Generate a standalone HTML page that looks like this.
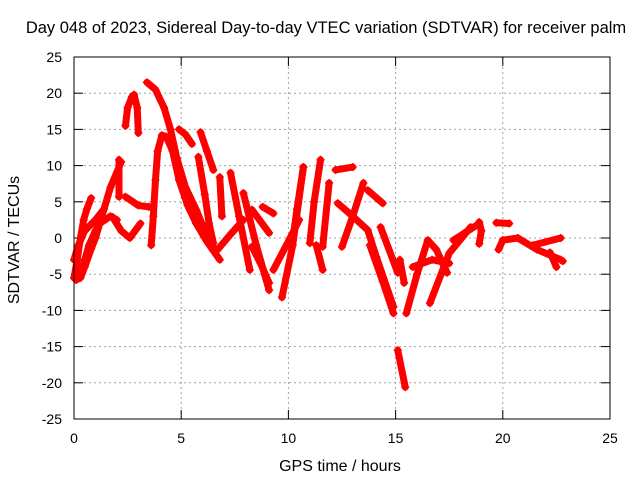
<!DOCTYPE html>
<html><head><meta charset="utf-8"><style>
body{margin:0;background:#fff}
svg{display:block;font-family:"Liberation Sans",sans-serif}
</style></head><body>
<svg id="chart" width="640" height="480" xmlns="http://www.w3.org/2000/svg">
<rect width="640" height="480" fill="#fff"/>
<text x="326" y="33" font-size="16.5" text-anchor="middle">Day 048 of 2023, Sidereal Day-to-day VTEC variation (SDTVAR) for receiver palm</text>
<text x="340" y="471" font-size="16" text-anchor="middle">GPS time / hours</text>
<text transform="translate(19,240) rotate(-90)" font-size="16" text-anchor="middle">SDTVAR / TECUs</text>
<g id="grid"></g>
<g id="ticks"></g>
<g id="series"></g>
<rect x="74" y="57" width="536" height="362" fill="none" stroke="#000" stroke-width="1"/>
</svg>
<script>
const xTicks=[0,5,10,15,20,25];
const yTicks=[-25,-20,-15,-10,-5,0,5,10,15,20,25];
const tracks=[
[[0,-5.5],[0.15,-3],[0.3,0],[0.45,2.5],[0.6,4],[0.8,5.5]],
[[0.1,-5.8],[0.3,-5.5],[0.5,-4],[0.8,-1.5],[1,0],[1.3,3],[1.7,7],[2.2,10.5]],
[[0.3,-5],[0.5,-3],[0.7,-1],[1,1],[1.2,2],[1.7,3],[2,2.5]],
[[0,-3],[0.2,-1],[0.5,1],[1,2.5],[1.4,4]],
[[2.4,15.5],[2.5,18],[2.7,19.5],[2.8,19.8],[2.95,18],[3,14.5]],
[[3.4,21.5],[3.8,20.5],[4.2,18],[4.5,15],[4.8,11],[5.2,7],[5.7,3.9],[6.1,1],[6.5,-1.2]],
[[3.6,-1],[3.7,3],[3.8,8],[3.9,12],[4.1,14.2],[4.3,14],[4.6,12],[4.9,8],[5.3,4.5],[5.7,2],[6.2,-0.5],[6.8,-3]],
[[4.9,15],[5.2,14.3],[5.5,13]],
[[5.9,14.6],[6.2,12],[6.5,9.4]],
[[5.8,11.2],[6.1,6],[6.3,2],[6.5,-0.7]],
[[1.8,2.9],[2.2,1],[2.6,0],[3.1,2]],
[[2.4,5.7],[3,4.5],[3.5,4.3]],
[[2.1,10.8],[2.1,5.7]],
[[6.8,8.4],[6.9,3]],
[[7.3,9],[7.7,3],[8.2,-4.4]],
[[7.9,6.2],[8.5,-1],[9.1,-7.2]],
[[8.3,3.9],[9.1,0.7]],
[[8.8,4.3],[9.3,3.4]],
[[6.7,-1.6],[7.3,0.5],[7.9,2.5]],
[[8.3,-1.2],[8.7,-3.5],[9.1,-6.2]],
[[9.7,-8.2],[10.2,-1],[10.7,9.8]],
[[11,-0.7],[11.2,5],[11.5,10.8]],
[[9.3,-4.4],[10.1,0.1],[10.5,2.5]],
[[10.7,9.8],[10.4,4],[10.2,-0.3]],
[[11.3,-1],[11.6,-4.4]],
[[11.6,-1.2],[11.9,7.6]],
[[12.5,-1.2],[13,3],[13.5,7.6]],
[[12.2,9.4],[13,9.8]],
[[12.3,4.8],[13,3],[13.7,1.1],[14.1,-2.6],[14.9,-9.5]],
[[13.8,-1],[14.4,-6],[14.9,-10.4]],
[[14.3,1.5],[15.1,-4.8]],
[[13.7,6.6],[14.4,4.8]],
[[15.5,-10.4],[16,-5],[16.5,-0.3],[16.9,-1.6],[17.4,-4.8]],
[[16.6,-9],[17.5,-2.1],[18.5,1.5]],
[[17.7,-0.3],[18.8,1.8]],
[[15.8,-4],[16.7,-3],[17.5,-3.5]],
[[15.2,-3],[15.4,-6.2]],
[[15.1,-15.5],[15.45,-20.6]],
[[19.7,2.1],[20.3,2]],
[[19.8,-1.6],[20,-0.3],[20.7,0],[21.6,-1.6],[22.7,-3],[22.8,-3.2]],
[[21.4,-1],[22.7,0]],
[[22.2,-2],[22.5,-4]],
[[18.9,2.2],[19,1],[18.9,-0.8]]
];
const X=t=>74+(t-0)*(536/25);
const Y=v=>238-v*(362/50);
const NS="http://www.w3.org/2000/svg";
const grid=document.getElementById('grid'),ticks=document.getElementById('ticks'),ser=document.getElementById('series');
function mk(tag,attrs,parent){const e=document.createElementNS(NS,tag);for(const k in attrs)e.setAttribute(k,attrs[k]);parent.appendChild(e);return e;}
xTicks.forEach(t=>{
  const x=X(t);
  if(t>0&&t<25){const g=mk('line',{x1:x,x2:x,y1:57,y2:419,stroke:'#a0a0a0','stroke-dasharray':'2,3'},grid);
  
  }
  mk('line',{x1:x,x2:x,y1:419,y2:410,stroke:'#000'},ticks);
  mk('line',{x1:x,x2:x,y1:57,y2:66,stroke:'#000'},ticks);
  const l=mk('text',{x:x,y:443,'font-size':14,'text-anchor':'middle'},ticks);l.textContent=t;
  
  
});
yTicks.forEach(v=>{
  const y=Y(v);
  if(v>-25&&v<25){const g=mk('line',{x1:74,x2:610,y1:y,y2:y,stroke:'#a0a0a0','stroke-dasharray':'2,3'},grid);
  
  }
  mk('line',{x1:74,x2:83,y1:y,y2:y,stroke:'#000'},ticks);
  mk('line',{x1:601,x2:610,y1:y,y2:y,stroke:'#000'},ticks);
  const l=mk('text',{x:62,y:y+5,'font-size':14,'text-anchor':'end'},ticks);l.textContent=v;
  
  
});
tracks.forEach(tr=>{
  const p=mk('polyline',{points:tr.map(d=>X(d[0])+','+Y(d[1])).join(' '),fill:'none',stroke:'#ff0000','stroke-width':7,'stroke-linejoin':'round','stroke-linecap':'round'},ser);
  
  
  tr.forEach(d=>{
    const m=mk('path',{d:`M${X(d[0])-4},${Y(d[1])}h8M${X(d[0])},${Y(d[1])-4}v8`,stroke:'#ff0000','stroke-width':1.5},ser);
    
    
  });
});
</script>
</body></html>
